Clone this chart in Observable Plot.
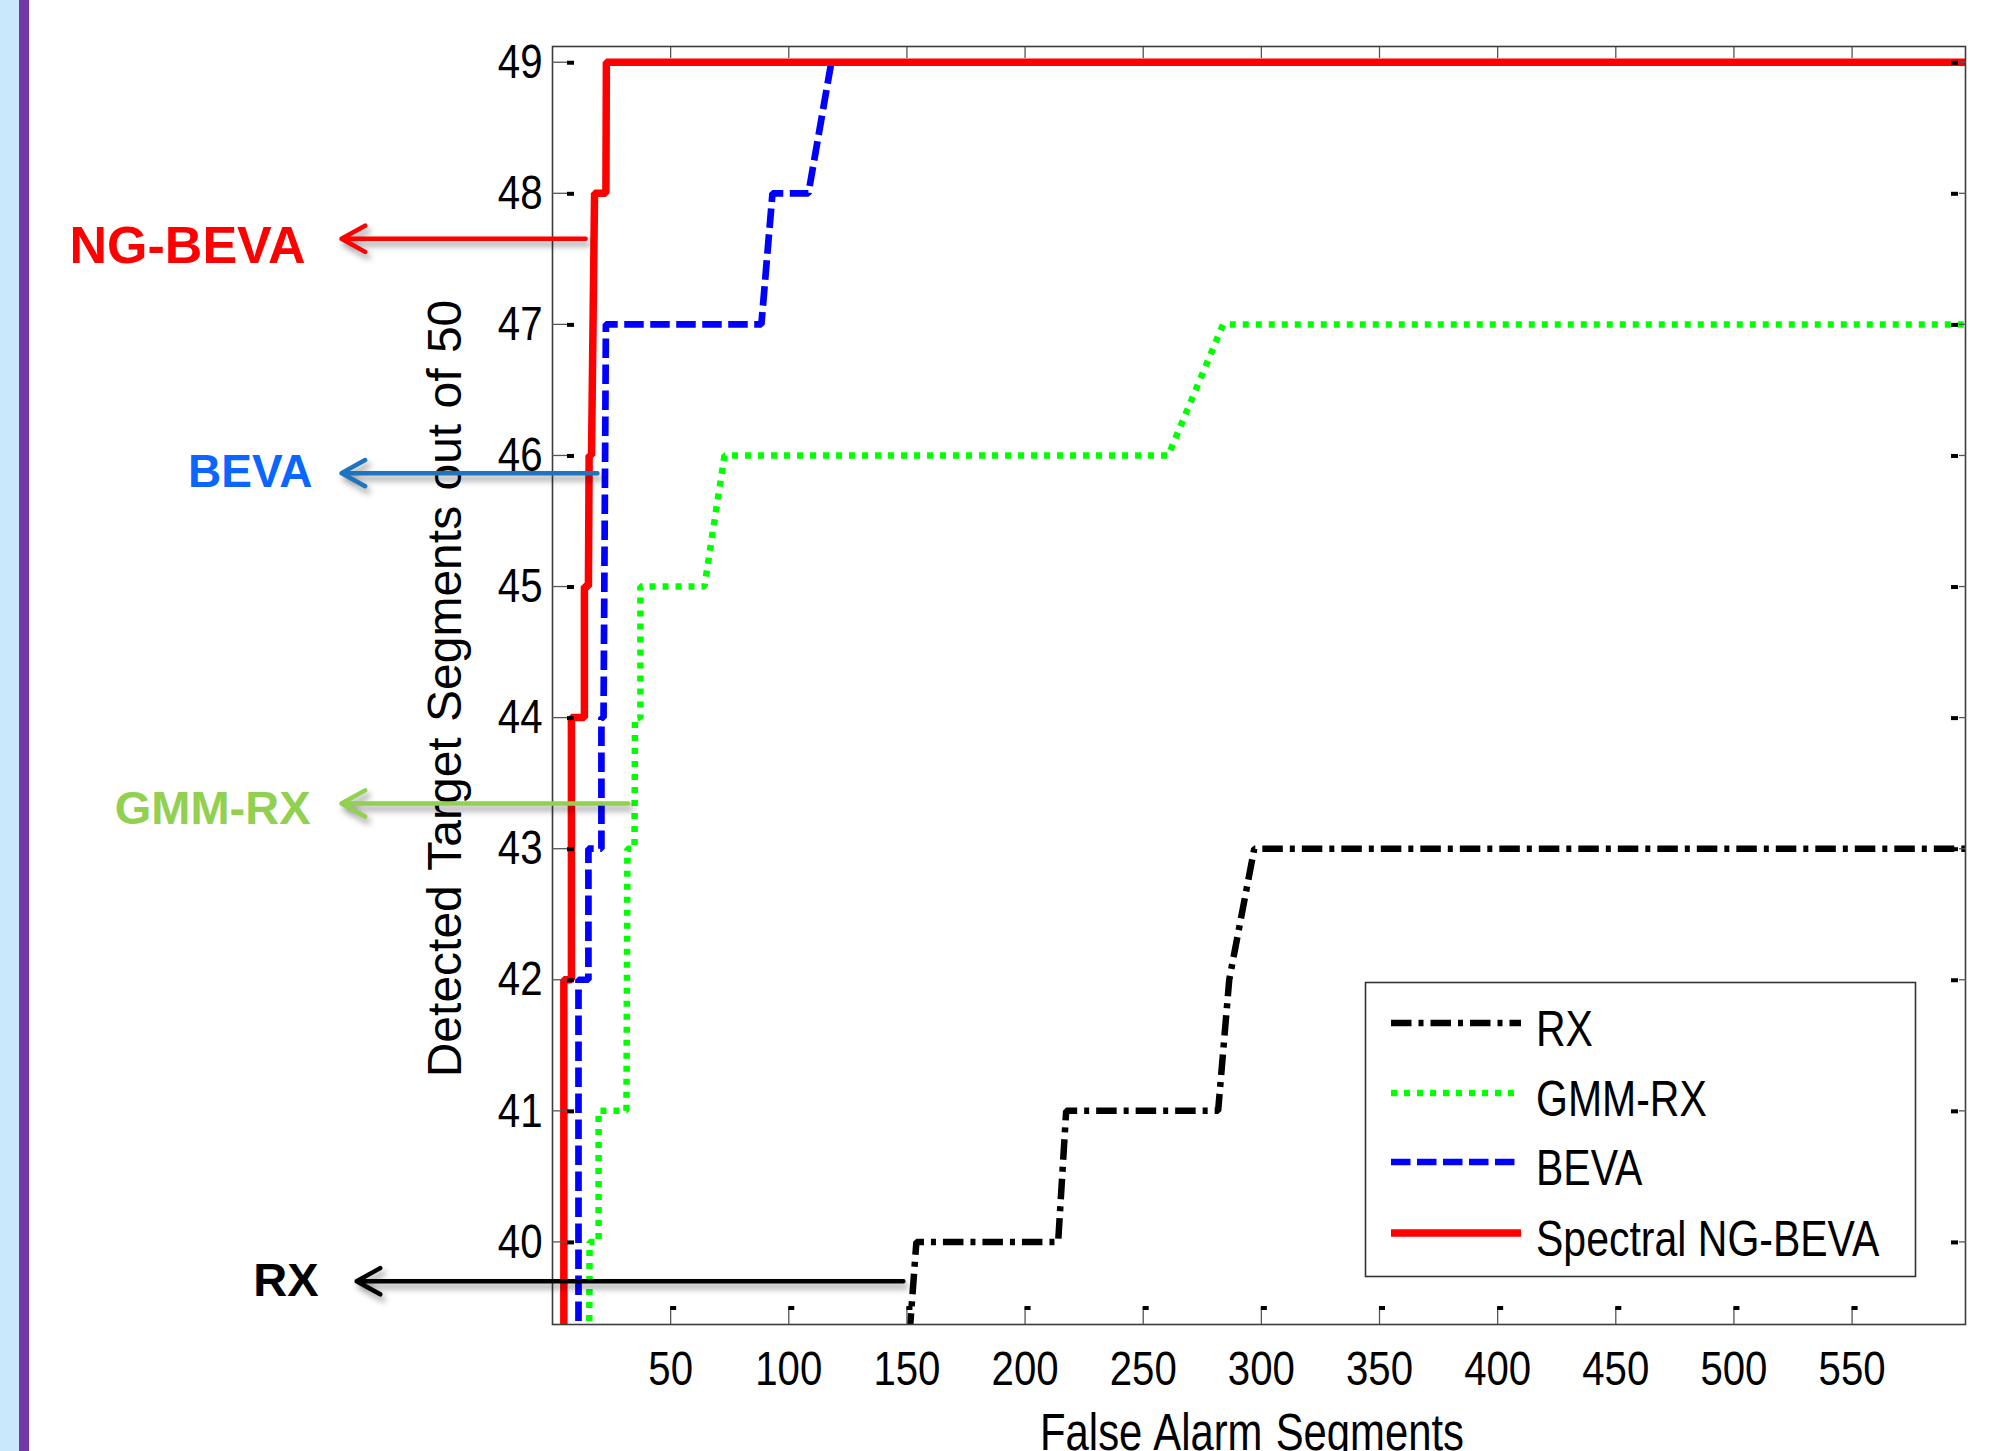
<!DOCTYPE html>
<html><head><meta charset="utf-8">
<script src="https://cdn.jsdelivr.net/npm/d3@7"></script>
<script src="https://cdn.jsdelivr.net/npm/@observablehq/plot@0.6"></script>
<style>
html,body{margin:0;padding:0;background:#fff;width:2002px;height:1451px;overflow:hidden;}
#strip1{position:absolute;left:0;top:0;width:19px;height:1451px;background:#c9e8fb;}
#strip2{position:absolute;left:19px;top:0;width:10px;height:1451px;background:#7437a5;}
#chart{position:absolute;left:0;top:0;}
</style></head><body>
<div id="strip1"></div><div id="strip2"></div>
<div id="chart"></div>
<script>
// ---- data ----
const seriesNames = ["RX", "GMM-RX", "BEVA", "Spectral NG-BEVA"];
const rxX = [149.9, 154.0, 214.0, 217.4, 281.7, 286.4, 297.0, 598];
const rxY = [39, 40, 40, 41, 41, 42, 43, 43];
const gmmX = [15.5, 15.7, 19.5, 19.5, 31.3, 31.5, 31.7, 34.7, 34.9, 37.2, 37.2, 64.3, 72.8, 260.6, 283.8, 598];
const gmmY = [39, 40, 40, 41, 41, 42, 43, 43, 44, 44, 45, 45, 46, 46, 47, 47];
const bevaX = [11.0, 11.0, 15.2, 15.2, 20.7, 20.7, 21.6, 22.6, 88.4, 93.1, 108.3, 118.0, 598];
const bevaY = [39, 42, 42, 43, 43, 44, 44, 47, 47, 48, 48, 49, 49];
const ngX = [4.8, 4.8, 8.0, 8.0, 13.5, 13.5, 15.2, 15.5, 16.5, 17.8, 22.6, 22.8, 598];
const ngY = [39, 42, 42, 44, 44, 45, 45, 46, 46, 48, 48, 49, 49];
const xTicks = [50, 100, 150, 200, 250, 300, 350, 400, 450, 500, 550];
const yTicks = [40, 41, 42, 43, 44, 45, 46, 47, 48, 49];
const xLabel = "False Alarm Segments";
const yLabel = "Detected Target Segments out of 50";
const annotLabels = ["NG-BEVA", "BEVA", "GMM-RX", "RX"];
const annotY = [47.653, 45.865, 43.345, 39.70];
const annotFrom = [14.0, 19.0, 32.1, 148.5];
const annotTo = [-89.3, -89.3, -89.3, -82.9];

// ---- styles ----
const lineStyle = {
  "RX": {stroke: "#000000", strokeWidth: 6.5, strokeDasharray: "20.5,7,5,7"},
  "GMM-RX": {stroke: "#00ff00", strokeWidth: 6.5, strokeDasharray: "6,7"},
  "BEVA": {stroke: "#0000ff", strokeWidth: 6.7, strokeDasharray: "19.5,6.5"},
  "Spectral NG-BEVA": {stroke: "#ff0000", strokeWidth: 7.5}
};
const annotStyle = {
  "NG-BEVA": {text: "#ff0000", arrow: "#ff0000", size: 52, dx: -36, dy: 8},
  "BEVA": {text: "#0a66ff", arrow: "#1f74c0", size: 46, dx: -29, dy: -1},
  "GMM-RX": {text: "#92d050", arrow: "#92d050", size: 47, dx: -31, dy: 5},
  "RX": {text: "#000000", arrow: "#000000", size: 47, dx: -38, dy: 0}
};
const regular = "'Liberation Sans',Arial,sans-serif";
const squeeze = 0.82;

const seriesData = {
  "RX": rxX.map((x, i) => ({x, y: rxY[i]})),
  "GMM-RX": gmmX.map((x, i) => ({x, y: gmmY[i]})),
  "BEVA": bevaX.map((x, i) => ({x, y: bevaY[i]})),
  "Spectral NG-BEVA": ngX.map((x, i) => ({x, y: ngY[i]}))
};
const annot = annotLabels.map((label, i) => ({label, y: annotY[i], from: annotFrom[i], to: annotTo[i]}));
const noText = () => "";

const chart = Plot.plot({
  width: 2002, height: 1451,
  marginLeft: 552, marginRight: 37, marginTop: 46, marginBottom: 127,
  style: {fontFamily: regular, color: "#000", background: "transparent", overflow: "visible"},
  x: {domain: [0, 598]},
  y: {domain: [39.37, 49.12]},
  marks: [
    ...seriesNames.map(n => Plot.line(seriesData[n], {x: "x", y: "y", ...lineStyle[n], clip: true, strokeLinejoin: "miter", strokeLinecap: "butt"})),
    Plot.frame({stroke: "#3c3c3c", strokeWidth: 1.6}),
    Plot.axisX(xTicks, {anchor: "bottom", tickSize: -17, tickFormat: noText, label: null, stroke: "#555", strokeWidth: 1.3}),
    Plot.axisX(xTicks, {anchor: "top", tickSize: -11, tickFormat: noText, label: null, stroke: "#555", strokeWidth: 1.3}),
    Plot.axisY(yTicks, {anchor: "left", tickSize: -15, tickFormat: noText, label: null, stroke: "#555", strokeWidth: 1.3}),
    Plot.axisY(yTicks, {anchor: "right", tickSize: -7, tickFormat: noText, label: null, stroke: "#555", strokeWidth: 1.3}),
    Plot.axisX(xTicks, {anchor: "bottom", tickSize: 0, tickPadding: 26, fontSize: 49, label: null, tickFormat: "d"}),
    Plot.axisY(yTicks, {anchor: "left", tickSize: 0, tickPadding: 10, fontSize: 49, label: null, tickFormat: "d"}),
    Plot.text([xLabel], {frameAnchor: "bottom", lineAnchor: "middle", textAnchor: "middle", dy: 109, dx: -7, fontSize: 51, fill: "#000"}),
    Plot.text([yLabel], {frameAnchor: "left", lineAnchor: "middle", textAnchor: "middle", rotate: -90, dx: -107, dy: 3, fontSize: 48, fill: "#000"}),
    Plot.arrow(annot, {x1: "from", x2: "to", y1: "y", y2: "y", stroke: d => annotStyle[d.label].arrow, strokeWidth: 4.5, headLength: 9, headAngle: 58}),
    ...annot.map(a => Plot.text([a], {x: "to", y: "y", text: "label", fill: annotStyle[a.label].text, fontSize: annotStyle[a.label].size, fontWeight: "bold", textAnchor: "end", lineAnchor: "middle", dx: annotStyle[a.label].dx, dy: annotStyle[a.label].dy}))
  ]
});

const svg = d3.select(chart);
svg.selectAll('g[aria-label="arrow"]').style("filter", "drop-shadow(3px 5px 3px rgba(0,0,0,0.4))");
svg.selectAll("text").style("word-spacing", "2px");

// horizontally condensed text, like the reference (tick labels and x label)
function condense(node, k) {
  const t = d3.select(node);
  const tr = t.attr("transform") || "";
  const xa = t.attr("x");
  const x = xa !== null && isFinite(+xa) ? +xa : 0;
  if (xa !== null && isFinite(+xa)) t.attr("x", null);
  t.attr("transform", `${tr} translate(${x},0) scale(${k},1)`);
}
svg.selectAll("text").each(function() {
  const s = this.textContent;
  if (s === "" || s === yLabel || annotLabels.includes(s)) return;
  condense(this, squeeze);
});

// small black tick ends (MATLAB artefacts)
const sx = chart.scale("x"), sy = chart.scale("y");
const marks = svg.append("g");
yTicks.forEach(t => {
  const y = sy.apply(t);
  marks.append("rect").attr("x", 567).attr("y", y - 1).attr("width", 7).attr("height", 4).attr("fill", "#000");
  marks.append("rect").attr("x", 1951).attr("y", y - 1).attr("width", 7).attr("height", 4).attr("fill", "#000");
});
xTicks.forEach(t => {
  const x = sx.apply(t);
  marks.append("rect").attr("x", x).attr("y", 1306).attr("width", 6).attr("height", 4).attr("fill", "#000");
});

// legend
const lg = svg.append("g");
lg.append("rect").attr("x", 1365.5).attr("y", 982.5).attr("width", 550).attr("height", 294)
  .attr("fill", "#fff").attr("stroke", "#333").attr("stroke-width", 1.6);
const rowY = [1023, 1093, 1162, 1233];
seriesNames.forEach((n, i) => {
  const st = lineStyle[n];
  lg.append("line").attr("x1", 1391).attr("x2", 1521).attr("y1", rowY[i]).attr("y2", rowY[i])
    .attr("stroke", st.stroke).attr("stroke-width", st.strokeWidth)
    .attr("stroke-dasharray", st.strokeDasharray || null);
  lg.append("text").attr("transform", `translate(1536,${rowY[i] + 23}) scale(${squeeze},1)`)
    .attr("font-size", 50).attr("text-anchor", "start")
    .attr("font-family", regular).attr("fill", "#000").text(n);
});

document.getElementById("chart").appendChild(chart);
</script>
</body></html>
